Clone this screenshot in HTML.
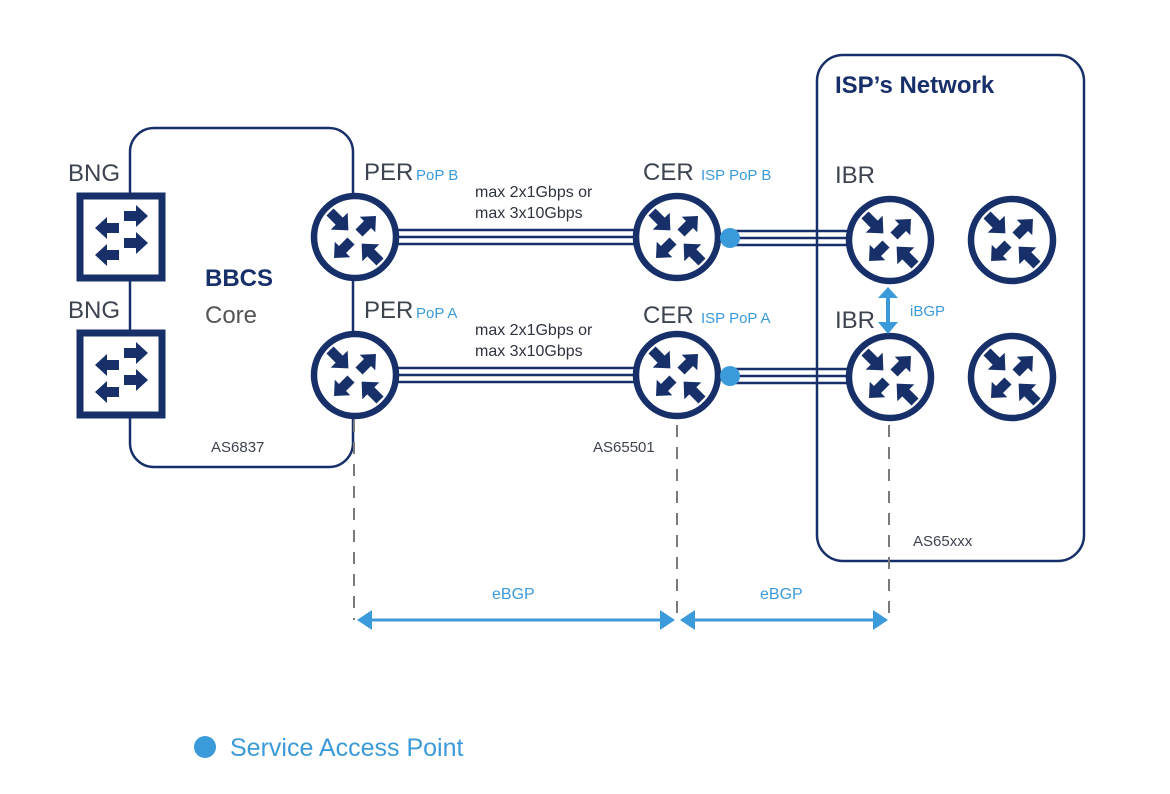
<!DOCTYPE html>
<html><head><meta charset="utf-8"><style>
html,body{margin:0;padding:0;background:#fff;}
svg{display:block;font-family:"Liberation Sans",sans-serif;}
</style></head><body>
<svg width="1170" height="794" viewBox="0 0 1170 794" xmlns="http://www.w3.org/2000/svg">
<defs>
  <g id="arr"><polygon points="0,-5 13,-5 13,-12 26,0 13,12 13,5 0,5" fill="#17306a"/></g>
  <g id="arrs"><polygon points="0,-5 12,-5 12,-11 24,0 12,11 12,5 0,5" fill="#17306a"/></g>
  <g id="router">
    <circle cx="0" cy="0" r="41" fill="#fff" stroke="#17306a" stroke-width="6.5"/>
    <use href="#arr" transform="translate(-25,-25) rotate(45)"/>
    <use href="#arr" transform="translate(25,25) rotate(225)"/>
    <use href="#arrs" transform="translate(4,-4) rotate(-45)"/>
    <use href="#arrs" transform="translate(-4,4) rotate(135)"/>
  </g>
  <g id="sw">
    <rect x="-41" y="-41" width="82" height="82" fill="#fff" stroke="#17306a" stroke-width="7"/>
    <use href="#arrs" transform="translate(3,-21)"/>
    <use href="#arrs" transform="translate(3,6)"/>
    <use href="#arrs" transform="translate(-2,-9) rotate(180)"/>
    <use href="#arrs" transform="translate(-2,18) rotate(180)"/>
  </g>
</defs>

<rect x="130" y="128" width="223" height="339" rx="24" fill="none" stroke="#17306a" stroke-width="2.5"/>
<rect x="817" y="55" width="267" height="506" rx="26" fill="none" stroke="#17306a" stroke-width="2.5"/>

<g stroke="#7a7a7a" stroke-width="2" stroke-dasharray="12,10">
  <line x1="354" y1="420" x2="354" y2="620"/>
  <line x1="677" y1="425" x2="677" y2="620"/>
  <line x1="889" y1="425" x2="889" y2="620"/>
</g>

<g stroke="#17306a" stroke-width="2.5">
  <line x1="395" y1="230" x2="640" y2="230"/><line x1="395" y1="237" x2="640" y2="237"/><line x1="395" y1="244" x2="640" y2="244"/>
  <line x1="395" y1="368" x2="640" y2="368"/><line x1="395" y1="375" x2="640" y2="375"/><line x1="395" y1="382" x2="640" y2="382"/>
  <line x1="735" y1="231" x2="850" y2="231"/><line x1="735" y1="238" x2="850" y2="238"/><line x1="735" y1="245" x2="850" y2="245"/>
  <line x1="735" y1="369" x2="850" y2="369"/><line x1="735" y1="376" x2="850" y2="376"/><line x1="735" y1="383" x2="850" y2="383"/>
</g>

<use href="#sw" transform="translate(121,237)"/>
<use href="#sw" transform="translate(121,374)"/>
<use href="#router" transform="translate(355,237)"/>
<use href="#router" transform="translate(355,375)"/>
<use href="#router" transform="translate(677,237)"/>
<use href="#router" transform="translate(677,375)"/>
<use href="#router" transform="translate(890,240)"/>
<use href="#router" transform="translate(890,377)"/>
<use href="#router" transform="translate(1012,240)"/>
<use href="#router" transform="translate(1012,377)"/>

<circle cx="730" cy="238" r="10" fill="#3b9ad9"/>
<circle cx="730" cy="376" r="10" fill="#3b9ad9"/>

<line x1="888" y1="296" x2="888" y2="324" stroke="#3b9ad9" stroke-width="4"/>
<polygon points="878,298 888,287 898,298" fill="#3b9ad9"/>
<polygon points="878,322 888,334 898,322" fill="#3b9ad9"/>

<g fill="#3b9ad9">
  <line x1="365" y1="620" x2="665" y2="620" stroke="#3b9ad9" stroke-width="3"/>
  <polygon points="357,620 372,610 372,630"/>
  <polygon points="675,620 660,610 660,630"/>
  <line x1="690" y1="620" x2="878" y2="620" stroke="#3b9ad9" stroke-width="3"/>
  <polygon points="680,620 695,610 695,630"/>
  <polygon points="888,620 873,610 873,630"/>
</g>

<g fill="#3d4450" font-size="24">
  <text x="68" y="181">BNG</text>
  <text x="68" y="318">BNG</text>
  <text x="205" y="323" fill="#555">Core</text>
  <text x="364" y="180">PER</text>
  <text x="364" y="318">PER</text>
  <text x="643" y="180">CER</text>
  <text x="643" y="323">CER</text>
  <text x="835" y="183">IBR</text>
  <text x="835" y="328">IBR</text>
</g>
<text x="205" y="286" font-size="24" font-weight="bold" fill="#17306a">BBCS</text>
<text x="835" y="93" font-size="24" font-weight="bold" fill="#17306a">ISP’s Network</text>
<g fill="#3b9ad9" font-size="15">
  <text x="416" y="180">PoP B</text>
  <text x="416" y="318">PoP A</text>
  <text x="701" y="180">ISP PoP B</text>
  <text x="701" y="323">ISP PoP A</text>
  <text x="910" y="316">iBGP</text>
  <text x="492" y="599" font-size="16">eBGP</text>
  <text x="760" y="599" font-size="16">eBGP</text>
</g>
<g fill="#2e3340" font-size="16">
  <text x="475" y="197">max 2x1Gbps or</text>
  <text x="475" y="218">max 3x10Gbps</text>
  <text x="475" y="335">max 2x1Gbps or</text>
  <text x="475" y="356">max 3x10Gbps</text>
</g>
<g fill="#3d4450" font-size="15">
  <text x="211" y="452">AS6837</text>
  <text x="593" y="452">AS65501</text>
  <text x="913" y="546">AS65xxx</text>
</g>

<circle cx="205" cy="747" r="11" fill="#3b9ad9"/>
<text x="230" y="756" font-size="25" fill="#3b9ad9">Service Access Point</text>
</svg>
</body></html>
